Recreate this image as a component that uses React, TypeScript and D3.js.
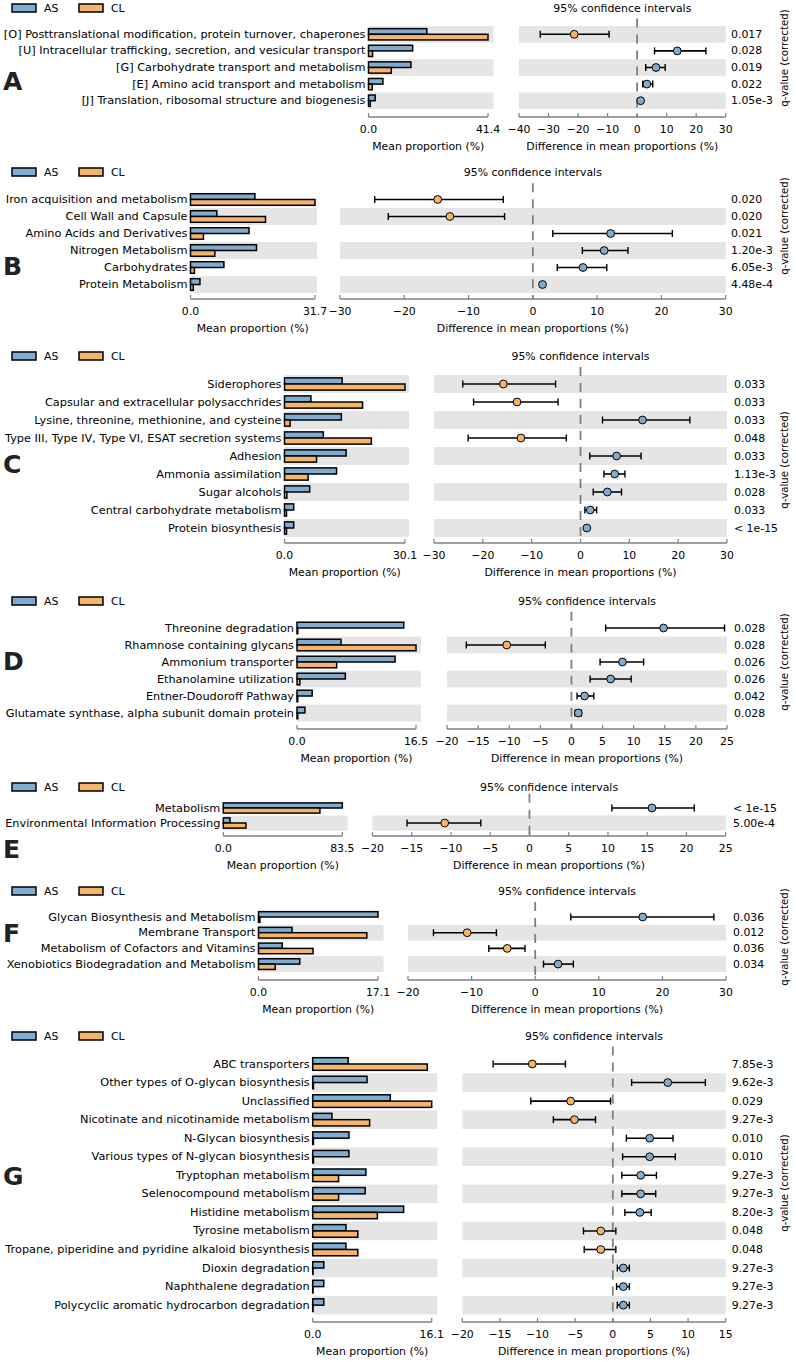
import React from 'react';
import * as d3 from 'd3';

const AS_COLOR = '#82abd0';
const CL_COLOR = '#f5b46e';
const BAND = '#e5e5e5';
const AXIS = '#808080';
const FONT = '"DejaVu Sans", "Liberation Sans", sans-serif';

// ---------- A : COG categories
const aLabels = [
  '[O] Posttranslational modification, protein turnover, chaperones',
  '[U] Intracellular trafficking, secretion, and vesicular transport',
  '[G] Carbohydrate transport and metabolism',
  '[E] Amino acid transport and metabolism',
  '[J] Translation, ribosomal structure and biogenesis',
];
const aAS = [20.2, 15.3, 14.7, 5.0, 2.3];
const aCL = [41.4, 1.4, 7.9, 1.3, 0.6];
const aDiff = [-21.3, 13.6, 6.4, 3.3, 1.2];
const aLo = [-32.8, 5.9, 2.9, 1.9, 0.9];
const aHi = [-9.5, 23.3, 9.5, 5.3, 1.5];
const aQ = ['0.017', '0.028', '0.019', '0.022', '1.05e-3'];
const aTicks = [-40, -30, -20, -10, 0, 10, 20, 30];

// ---------- B : SEED level 1
const bLabels = [
  'Iron acquisition and metabolism',
  'Cell Wall and Capsule',
  'Amino Acids and Derivatives',
  'Nitrogen Metabolism',
  'Carbohydrates',
  'Protein Metabolism',
];
const bAS = [16.4, 6.7, 14.9, 16.8, 8.5, 2.4];
const bCL = [31.7, 19.1, 3.3, 6.2, 1.0, 0.7];
const bDiff = [-14.8, -12.9, 12.1, 11.1, 7.8, 1.5];
const bLo = [-24.6, -22.5, 3.1, 7.7, 3.8, 1.2];
const bHi = [-4.6, -4.4, 21.7, 14.8, 11.5, 1.8];
const bQ = ['0.020', '0.020', '0.021', '1.20e-3', '6.05e-3', '4.48e-4'];
const bTicks = [-30, -20, -10, 0, 10, 20, 30];

// ---------- C : SEED level 2
const cLabels = [
  'Siderophores',
  'Capsular and extracellular polysacchrides',
  'Lysine, threonine, methionine, and cysteine',
  'Type III, Type IV, Type VI, ESAT secretion systems',
  'Adhesion',
  'Ammonia assimilation',
  'Sugar alcohols',
  'Central carbohydrate metabolism',
  'Protein biosynthesis',
];
const cAS = [14.4, 6.6, 14.2, 9.7, 15.4, 13.0, 6.3, 2.3, 2.3];
const cCL = [30.1, 19.5, 1.4, 21.7, 8.0, 5.9, 0.6, 0.5, 0.5];
const cDiff = [-15.8, -13.0, 12.7, -12.2, 7.4, 7.0, 5.5, 2.0, 1.3];
const cLo = [-24.1, -21.9, 4.5, -23.0, 1.9, 4.8, 2.6, 0.9, 1.1];
const cHi = [-5.1, -4.6, 22.4, -2.9, 12.4, 9.1, 8.4, 3.3, 1.5];
const cQ = ['0.033', '0.033', '0.033', '0.048', '0.033', '1.13e-3', '0.028', '0.033', '< 1e-15'];
const cTicks = [-30, -20, -10, 0, 10, 20, 30];

// ---------- D : SEED level 3
const dLabels = [
  'Threonine degradation',
  'Rhamnose containing glycans',
  'Ammonium transporter',
  'Ethanolamine utilization',
  'Entner-Doudoroff Pathway',
  'Glutamate synthase, alpha subunit domain protein',
];
const dAS = [14.8, 6.1, 13.6, 6.7, 2.1, 1.1];
const dCL = [0.1, 16.5, 5.5, 0.4, 0.1, 0.1];
const dDiff = [14.8, -10.4, 8.2, 6.3, 2.1, 1.1];
const dLo = [5.5, -16.9, 4.6, 3.0, 0.9, 0.6];
const dHi = [24.6, -4.2, 11.6, 9.6, 3.6, 1.6];
const dQ = ['0.028', '0.028', '0.026', '0.026', '0.042', '0.028'];
const dTicks = [-20, -15, -10, -5, 0, 5, 10, 15, 20, 25];

// ---------- E : KEGG level 1
const eLabels = ['Metabolism', 'Environmental Information Processing'];
const eAS = [83.5, 4.7];
const eCL = [67.8, 15.9];
const eDiff = [15.6, -10.8];
const eLo = [10.5, -15.6];
const eHi = [21.0, -6.2];
const eQ = ['< 1e-15', '5.00e-4'];
const eTicks = [-20, -15, -10, -5, 0, 5, 10, 15, 20, 25];

// ---------- F : KEGG level 2
const fLabels = [
  'Glycan Biosynthesis and Metabolism',
  'Membrane Transport',
  'Metabolism of Cofactors and Vitamins',
  'Xenobiotics Biodegradation and Metabolism',
];
const fAS = [17.1, 4.8, 3.4, 5.9];
const fCL = [0.2, 15.5, 7.8, 2.4];
const fDiff = [16.9, -10.7, -4.4, 3.6];
const fLo = [5.6, -16.0, -7.3, 1.3];
const fHi = [28.1, -6.1, -1.6, 6.0];
const fQ = ['0.036', '0.012', '0.036', '0.034'];
const fTicks = [-20, -10, 0, 10, 20, 30];

// ---------- G : KEGG level 3
const gLabels = [
  'ABC transporters',
  'Other types of O-glycan biosynthesis',
  'Unclassified',
  'Nicotinate and nicotinamide metabolism',
  'N-Glycan biosynthesis',
  'Various types of N-glycan biosynthesis',
  'Tryptophan metabolism',
  'Selenocompound metabolism',
  'Histidine metabolism',
  'Tyrosine metabolism',
  'Tropane, piperidine and pyridine alkaloid biosynthesis',
  'Dioxin degradation',
  'Naphthalene degradation',
  'Polycyclic aromatic hydrocarbon degradation',
];
const gAS = [4.8, 7.35, 10.5, 2.6, 4.9, 4.9, 7.2, 7.1, 12.3, 4.5, 4.5, 1.5, 1.5, 1.5];
const gCL = [15.5, 0.1, 16.1, 7.7, 0.1, 0.1, 3.5, 3.5, 8.75, 6.1, 6.1, 0.05, 0.05, 0.05];
const gDiff = [-10.7, 7.3, -5.6, -5.1, 4.9, 4.9, 3.7, 3.7, 3.6, -1.6, -1.6, 1.4, 1.4, 1.4];
const gLo = [-15.9, 2.5, -10.9, -7.9, 1.8, 1.3, 1.2, 1.2, 1.6, -3.9, -3.8, 0.6, 0.5, 0.6];
const gHi = [-6.3, 12.3, -0.3, -2.3, 8.0, 8.3, 5.8, 5.7, 5.1, 0.4, 0.4, 2.2, 2.2, 2.2];
const gQ = ['7.85e-3', '9.62e-3', '0.029', '9.27e-3', '0.010', '0.010', '9.27e-3', '9.27e-3', '8.20e-3', '0.048', '0.048', '9.27e-3', '9.27e-3', '9.27e-3'];
const gTicks = [-20, -15, -10, -5, 0, 5, 10, 15];

const panels = [
  { letter: 'A', labels: aLabels, as: aAS, cl: aCL, diff: aDiff, lo: aLo, hi: aHi, q: aQ, ticks: aTicks },
  { letter: 'B', labels: bLabels, as: bAS, cl: bCL, diff: bDiff, lo: bLo, hi: bHi, q: bQ, ticks: bTicks },
  { letter: 'C', labels: cLabels, as: cAS, cl: cCL, diff: cDiff, lo: cLo, hi: cHi, q: cQ, ticks: cTicks },
  { letter: 'D', labels: dLabels, as: dAS, cl: dCL, diff: dDiff, lo: dLo, hi: dHi, q: dQ, ticks: dTicks },
  { letter: 'E', labels: eLabels, as: eAS, cl: eCL, diff: eDiff, lo: eLo, hi: eHi, q: eQ, ticks: eTicks },
  { letter: 'F', labels: fLabels, as: fAS, cl: fCL, diff: fDiff, lo: fLo, hi: fHi, q: fQ, ticks: fTicks },
  { letter: 'G', labels: gLabels, as: gAS, cl: gCL, diff: gDiff, lo: gLo, hi: gHi, q: gQ, ticks: gTicks },
];

// page geometry of each panel
const layouts = [
  { bar0: 368.5, barEnd: 488, bandEnd: 493.5, ci0: 519, ci1: 725.7, qx: 731, row0: 34.3, step: 16.6, axisY: 117, legendY: 8, letterY: 90, qLabelY: 58 },
  { bar0: 190.5, barEnd: 315, bandEnd: 317, ci0: 340, ci1: 725.7, qx: 731, row0: 199.5, step: 17, axisY: 299, legendY: 172, letterY: 275, qLabelY: 226 },
  { bar0: 284.5, barEnd: 405, bandEnd: 409, ci0: 434, ci1: 727, qx: 734, row0: 384, step: 18, axisY: 543, legendY: 356, letterY: 473, qLabelY: 460 },
  { bar0: 297, barEnd: 416, bandEnd: 421, ci0: 447, ci1: 727, qx: 734, row0: 628, step: 17, axisY: 729, legendY: 601, letterY: 670, qLabelY: 662 },
  { bar0: 223.3, barEnd: 342.3, bandEnd: 347.5, ci0: 372.5, ci1: 725.7, qx: 733, row0: 808, step: 15, axisY: 836, legendY: 787, letterY: 858, qLabelY: 820, clipTop: 784 },
  { bar0: 258.5, barEnd: 378, bandEnd: 383.5, ci0: 408, ci1: 726, qx: 733, row0: 917, step: 15.7, axisY: 980, legendY: 891, letterY: 942, qLabelY: 937 },
  { bar0: 312.7, barEnd: 431.7, bandEnd: 437.3, ci0: 462.3, ci1: 725.7, qx: 731.7, row0: 1064, step: 18.55, axisY: 1322, legendY: 1036, letterY: 1185, qLabelY: 1183 },
];

const LABEL_SIZE = 11.3;
const TEXT_SIZE = 10.9;
const QLABEL_SIZE = 10.2;

const fmtTick = (v: number) => (v < 0 ? '\u2212' + Math.abs(v) : String(v));

const Panel: React.FC<{ p: typeof panels[number]; L: typeof layouts[number]; idx: number }> = ({ p, L, idx }) => {
  const n = p.labels.length;
  const barMax = d3.max([...p.as, ...p.cl]) as number;
  const xBar = d3.scaleLinear().domain([0, barMax]).range([L.bar0, L.barEnd]);
  const ticks = p.ticks;
  const xCi = d3.scaleLinear().domain([ticks[0], ticks[ticks.length - 1]]).range([L.ci0, L.ci1]);
  const y = d3.scaleLinear().domain([0, n - 1 || 1]).range([L.row0, L.row0 + L.step * ((n - 1) || 1)]);
  const h = L.step * 0.34;
  const zeroTop = L.row0 - L.step * 0.95;
  const clipId = `qclip${idx}`;

  return (
    <g fontFamily={FONT} fontSize={TEXT_SIZE} fill="#000">
      {/* legend */}
      <rect x={12} y={L.legendY - 4} width={24} height={8} fill={AS_COLOR} stroke="#000" strokeWidth={1.5} />
      <text x={44} y={L.legendY} dominantBaseline="central">AS</text>
      <rect x={79} y={L.legendY - 4} width={24} height={8} fill={CL_COLOR} stroke="#000" strokeWidth={1.5} />
      <text x={111} y={L.legendY} dominantBaseline="central">CL</text>
      <text x={(L.ci0 + L.ci1) / 2} y={L.legendY} textAnchor="middle" dominantBaseline="central">95% confidence intervals</text>

      {/* panel letter */}
      <text x={3} y={L.letterY} fontSize={25} fontWeight="bold" fill="#222">{p.letter}</text>

      {/* alternating bands */}
      {p.labels.map((_, i) => ((n - 1 - i) % 2 === 0 ? (
        <g key={'band' + i}>
          <rect x={L.bar0} y={y(i) - L.step / 2} width={L.bandEnd - L.bar0} height={L.step} fill={BAND} />
          <rect x={L.ci0} y={y(i) - L.step / 2} width={L.ci1 - L.ci0} height={L.step} fill={BAND} />
        </g>
      ) : null))}

      {/* category labels */}
      {p.labels.map((lab, i) => (
        <text key={'lab' + i} x={L.bar0 - 3} y={y(i)} fontSize={LABEL_SIZE} textAnchor="end" dominantBaseline="central">{lab}</text>
      ))}

      {/* bars */}
      {p.labels.map((_, i) => (
        <g key={'bar' + i} stroke="#000" strokeWidth={1.5}>
          <rect x={xBar(0)} y={y(i) - h} width={xBar(p.as[i]) - xBar(0)} height={h} fill={AS_COLOR} />
          <rect x={xBar(0)} y={y(i)} width={xBar(p.cl[i]) - xBar(0)} height={h} fill={CL_COLOR} />
        </g>
      ))}

      {/* bar axis */}
      <line x1={L.bar0} x2={L.barEnd} y1={L.axisY} y2={L.axisY} stroke={AXIS} strokeWidth={1.6} />
      {[0, barMax].map((v, k) => (
        <g key={'bt' + k}>
          <line x1={xBar(v)} x2={xBar(v)} y1={L.axisY} y2={L.axisY - 4} stroke={AXIS} strokeWidth={1.2} />
          <text x={xBar(v)} y={L.axisY + 12} textAnchor="middle" dominantBaseline="central">{v.toFixed(1)}</text>
        </g>
      ))}
      <text x={(L.bar0 + L.barEnd) / 2} y={L.axisY + 29} textAnchor="middle" dominantBaseline="central">Mean proportion (%)</text>

      {/* zero line */}
      <line x1={xCi(0)} x2={xCi(0)} y1={zeroTop} y2={L.axisY} stroke={AXIS} strokeWidth={1.8} strokeDasharray="9,7" />

      {/* error bars */}
      {p.labels.map((_, i) => {
        const yy = y(i);
        const col = p.diff[i] < 0 ? CL_COLOR : AS_COLOR;
        return (
          <g key={'ci' + i}>
            <line x1={xCi(p.lo[i])} x2={xCi(p.hi[i])} y1={yy} y2={yy} stroke="#000" strokeWidth={1.6} />
            <line x1={xCi(p.lo[i])} x2={xCi(p.lo[i])} y1={yy - 3.5} y2={yy + 3.5} stroke="#000" strokeWidth={1.4} />
            <line x1={xCi(p.hi[i])} x2={xCi(p.hi[i])} y1={yy - 3.5} y2={yy + 3.5} stroke="#000" strokeWidth={1.4} />
            <circle cx={xCi(p.diff[i])} cy={yy} r={3.9} fill={col} stroke="#000" strokeWidth={1} />
            <text x={L.qx} y={yy} dominantBaseline="central">{p.q[i]}</text>
          </g>
        );
      })}

      {/* CI axis */}
      <line x1={L.ci0} x2={L.ci1} y1={L.axisY} y2={L.axisY} stroke={AXIS} strokeWidth={1.6} />
      {ticks.map((v) => (
        <g key={'ct' + v}>
          <line x1={xCi(v)} x2={xCi(v)} y1={L.axisY} y2={L.axisY - 4} stroke={AXIS} strokeWidth={1.2} />
          <text x={xCi(v)} y={L.axisY + 12} textAnchor="middle" dominantBaseline="central">{fmtTick(v)}</text>
        </g>
      ))}
      <text x={(L.ci0 + L.ci1) / 2} y={L.axisY + 29} textAnchor="middle" dominantBaseline="central">Difference in mean proportions (%)</text>

      {/* q-value axis label */}
      {L.clipTop !== undefined && (
        <clipPath id={clipId}>
          <rect x={760} y={L.clipTop} width={36} height={200} />
        </clipPath>
      )}
      <text
        transform={`translate(784,${L.qLabelY}) rotate(-90)`}
        fontSize={QLABEL_SIZE}
        textAnchor="middle"
        dominantBaseline="central"
        clipPath={L.clipTop !== undefined ? `url(#${clipId})` : undefined}
      >
        q-value (corrected)
      </text>
    </g>
  );
};

export default function App() {
  return (
    <svg width={796} height={1362} style={{ position: 'absolute', left: 0, top: 0, background: '#fff' }}>
      <rect width={796} height={1362} fill="#fff" />
      {panels.map((p, i) => (
        <Panel key={p.letter} p={p} L={layouts[i]} idx={i} />
      ))}
    </svg>
  );
}
